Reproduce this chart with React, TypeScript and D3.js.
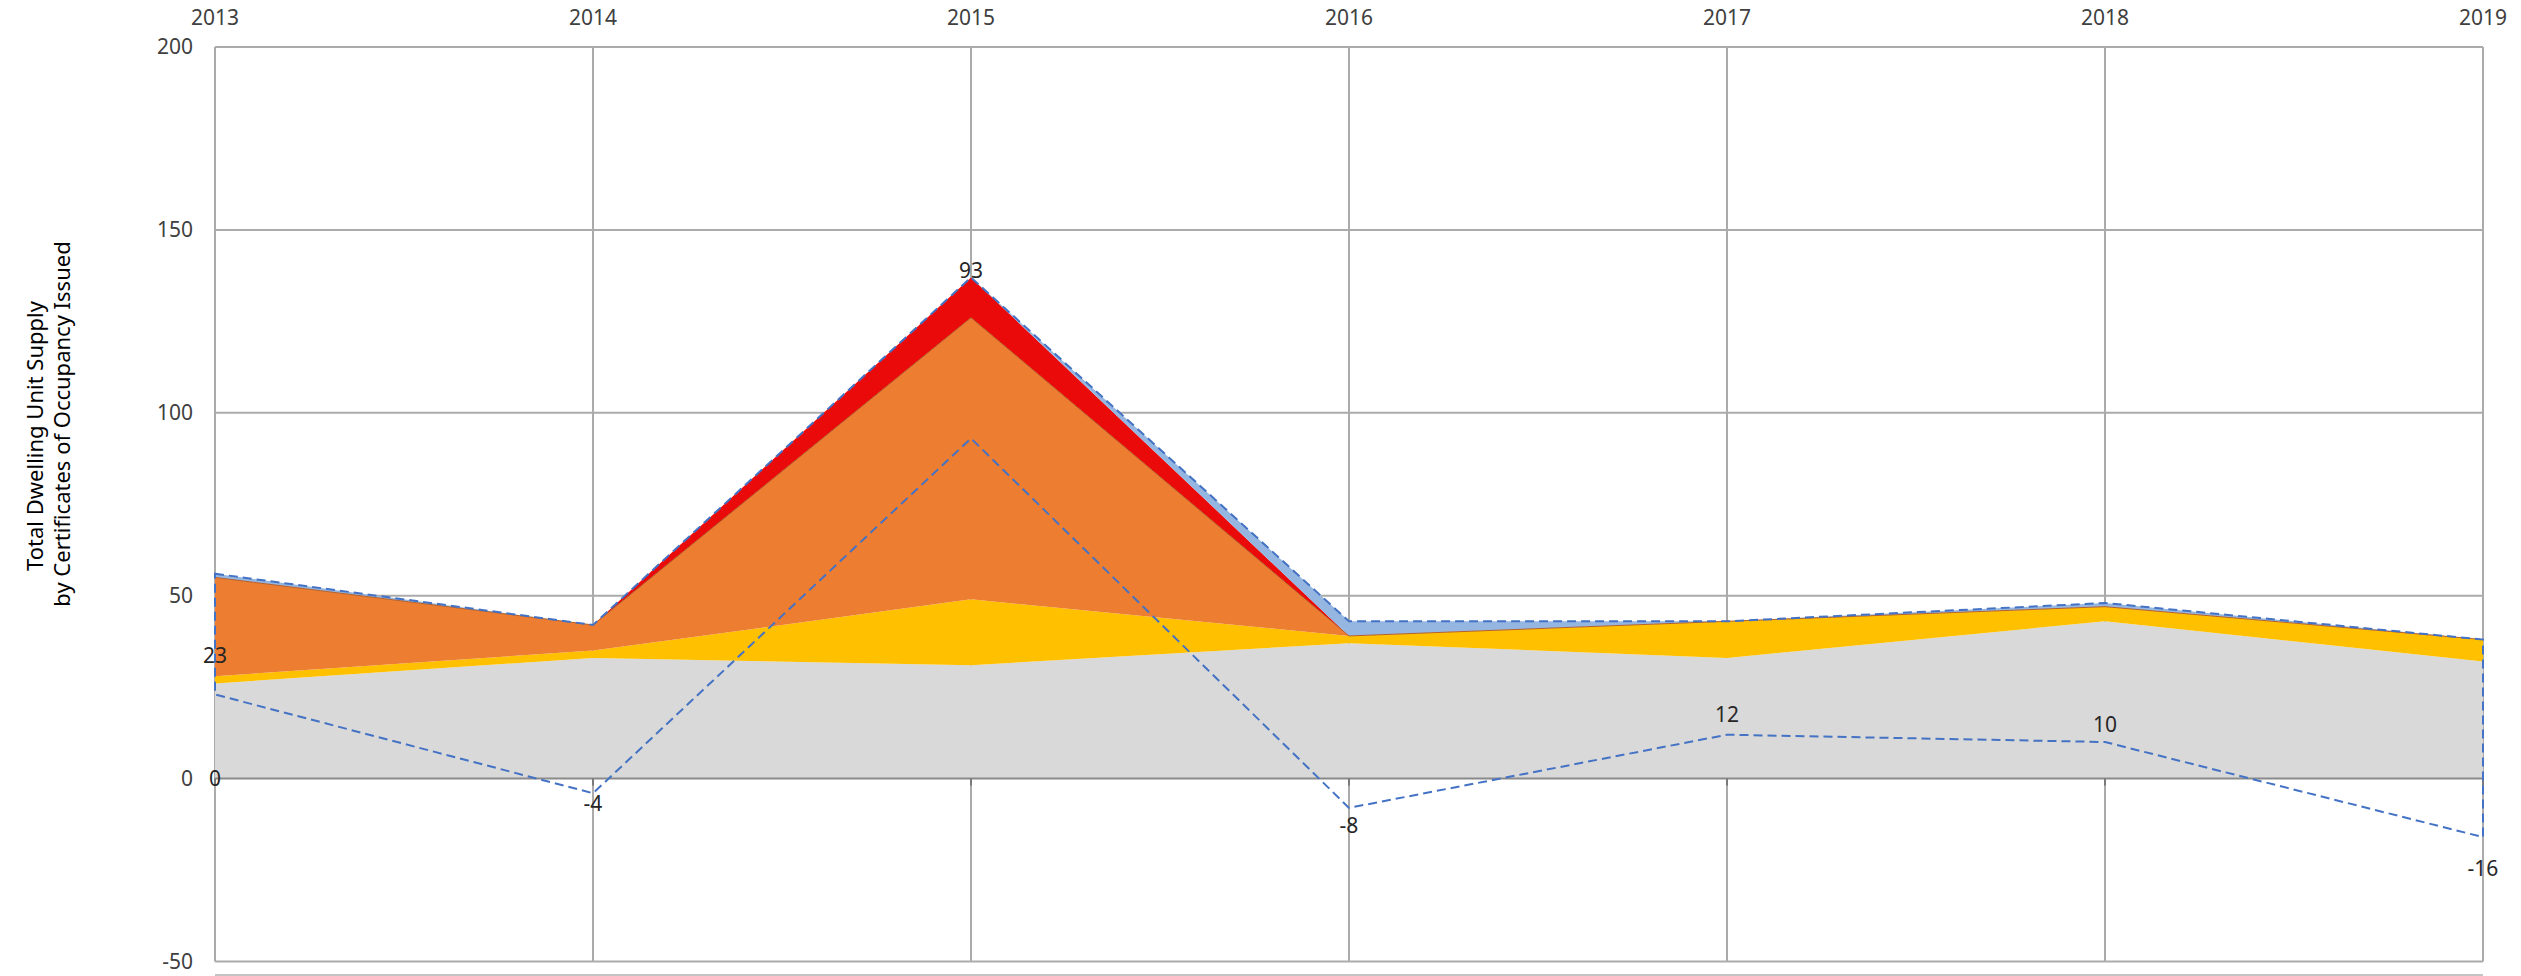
import React from "react";
import * as d3 from "d3";

// ---------- data ----------
const years = ["2013", "2014", "2015", "2016", "2017", "2018", "2019"];
const seriesGray = [26, 33, 31, 37, 33, 43, 32];
const seriesYellow = [2, 2, 18, 2, 10, 4, 6];
const seriesOrange = [27, 7, 77, 0, 0, 0, 0];
const seriesRed = [0, 0, 11, 0, 0, 0, 0];
const seriesBlue = [1, 0, 0, 4, 0, 1, 0];
const netChange = [23, -4, 93, -8, 12, 10, -16];
const yTicks = [-50, 0, 50, 100, 150, 200];
const titleLines = ["Total Dwelling Unit Supply", "by Certificates of Occupancy Issued"];

// ---------- layout / style ----------
const W = 2521;
const H = 976;
const LEFT = 215;
const RIGHT = 2483;
const TOP = 47;
const BOTTOM = 961.5;
const LABEL_DY = [-39, 10, -168, 18, -20, -17, 32];
const TITLE_X = [43, 70];
const TITLE_CY = [436, 424];
const FONT = "'Noto Sans', 'Open Sans', sans-serif";
const keys = ["gray", "yellow", "orange", "red", "blue"];
const colors: Record<string, string> = {
  gray: "#d9d9d9",
  yellow: "#ffc000",
  orange: "#ed7d31",
  red: "#ea0a0a",
  blue: "#95b6e0",
};

export default function App() {
  const rows = years.map((yr, i) => ({
    year: yr,
    gray: seriesGray[i],
    yellow: seriesYellow[i],
    orange: seriesOrange[i],
    red: seriesRed[i],
    blue: seriesBlue[i],
  }));
  const x = d3.scalePoint<string>().domain(years).range([LEFT, RIGHT]);
  const y = d3.scaleLinear().domain([-50, 200]).range([BOTTOM, TOP]);
  const stacked = d3.stack<any>().keys(keys)(rows);
  const area = d3
    .area<any>()
    .x((d: any) => x(d.data.year) as number)
    .y0((d: any) => y(d[0]))
    .y1((d: any) => y(d[1]));
  const topLine = d3
    .line<any>()
    .x((d: any) => x(d.data.year) as number)
    .y((d: any) => y(d[1]));

  const last = stacked[stacked.length - 1];
  const totalPts: [number, number][] = last.map((d: any) => [x(d.data.year) as number, y(d[1])]);
  const netPts: [number, number][] = netChange.map((v, i) => [x(years[i]) as number, y(v)]);
  const outline = d3.line()([...totalPts, ...netPts.slice().reverse()]) + "Z";

  return (
    <svg
      width={W}
      height={H}
      style={{ position: "absolute", left: 0, top: 0, background: "#fff" }}
      fontFamily={FONT}
    >
      {/* horizontal gridlines */}
      {yTicks
        .filter((t) => t !== 0)
        .map((t) => (
          <line key={"h" + t} x1={LEFT} x2={RIGHT} y1={y(t)} y2={y(t)} stroke="#ababab" strokeWidth={2} />
        ))}
      {/* vertical gridlines */}
      {years.map((yr) => (
        <line key={"v" + yr} x1={x(yr)} x2={x(yr)} y1={TOP} y2={BOTTOM} stroke="#ababab" strokeWidth={2} />
      ))}
      <line x1={LEFT} x2={RIGHT} y1={975} y2={975} stroke="#c4c4c4" strokeWidth={2} />

      {/* stacked areas */}
      {stacked.map((s: any) => (
        <path key={s.key} d={area(s) as string} fill={colors[s.key]} />
      ))}
      <path d={topLine(stacked[2] as any) as string} fill="none" stroke="#b4602a" strokeWidth={1} />

      {/* zero axis */}
      <line x1={LEFT} x2={RIGHT} y1={y(0)} y2={y(0)} stroke="#8a8a8a" strokeWidth={2} />
      {years.map((yr) => (
        <line key={"t" + yr} x1={x(yr)} x2={x(yr)} y1={y(0)} y2={y(0) + 7} stroke="#7a7a7a" strokeWidth={2} />
      ))}

      {/* dashed outline: total on top, net change below */}
      <path d={outline} fill="none" stroke="#4472c4" strokeWidth={2} strokeDasharray="9,5" />

      {/* data labels */}
      {netChange.map((v, i) => (
        <text
          key={"l" + i}
          x={x(years[i])}
          y={y(v) + LABEL_DY[i]}
          dy="0.35em"
          textAnchor="middle"
          fontSize={21}
          fill="#262626"
        >
          {v}
        </text>
      ))}
      <text x={x(years[0])} y={y(0)} dy="0.35em" textAnchor="middle" fontSize={21} fill="#262626">
        0
      </text>

      {/* y tick labels */}
      {yTicks.map((t) => (
        <text key={"y" + t} x={193} y={y(t)} dy="0.35em" textAnchor="end" fontSize={21} fill="#404040">
          {t}
        </text>
      ))}
      {/* x labels on top */}
      {years.map((yr) => (
        <text key={"x" + yr} x={x(yr)} y={18} dy="0.35em" textAnchor="middle" fontSize={21} fill="#404040">
          {yr}
        </text>
      ))}

      {/* axis title */}
      {titleLines.map((ln, i) => (
        <text
          key={"tt" + i}
          transform={`translate(${TITLE_X[i]},${TITLE_CY[i]}) rotate(-90)`}
          textAnchor="middle"
          fontSize={22}
          fill="#000"
        >
          {ln}
        </text>
      ))}
    </svg>
  );
}
